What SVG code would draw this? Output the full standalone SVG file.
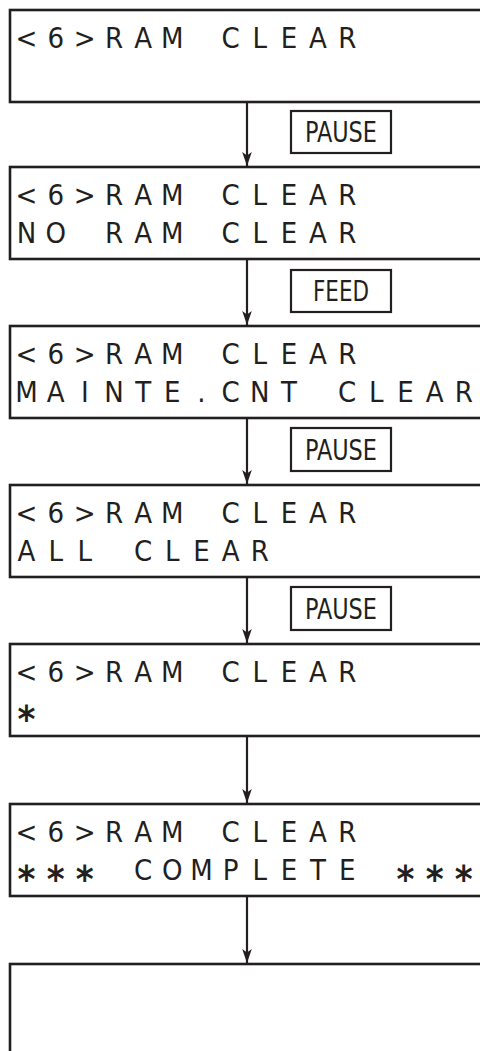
<svg xmlns="http://www.w3.org/2000/svg" width="480" height="1051" viewBox="0 0 480 1051">
<style>
.box{fill:#fff;stroke:#231f20;stroke-width:2.6}
.key{fill:#fff;stroke:#231f20;stroke-width:2.2}
.lcd{font-family:"Liberation Sans Narrow","DejaVu Sans Condensed","Liberation Sans",sans-serif;font-size:29px;fill:#231f20;text-anchor:middle}
.ast{font-family:"DejaVu Sans Condensed","DejaVu Sans",sans-serif;font-size:38px;font-weight:bold;fill:#231f20;text-anchor:middle}
.lbl{font-family:"Liberation Sans Narrow","DejaVu Sans Condensed","Liberation Sans",sans-serif;font-size:28px;fill:#231f20;text-anchor:middle}
.conn{stroke:#231f20;stroke-width:2.2;fill:none}
</style>
<defs>
<marker id="ah" markerUnits="userSpaceOnUse" markerWidth="16" markerHeight="12" viewBox="-15 -6 16 12" refX="0" refY="0" orient="auto">
<path d="M0,0 L-14,-4.8 L-10.5,0 L-14,4.8 Z" fill="#231f20"/>
</marker>
</defs>
<g id="connectors">
<line class="conn" x1="247" y1="102" x2="247" y2="166" marker-end="url(#ah)"/>
<line class="conn" x1="247" y1="259" x2="247" y2="325" marker-end="url(#ah)"/>
<line class="conn" x1="247" y1="418" x2="247" y2="484" marker-end="url(#ah)"/>
<line class="conn" x1="247" y1="577" x2="247" y2="643" marker-end="url(#ah)"/>
<line class="conn" x1="247" y1="736" x2="247" y2="803" marker-end="url(#ah)"/>
<line class="conn" x1="247" y1="896" x2="247" y2="963" marker-end="url(#ah)"/>
</g>
<g id="key-pause-1">
<rect class="key" x="291" y="111" width="100" height="42"/>
<text class="lbl" x="341" y="142" textLength="72" lengthAdjust="spacingAndGlyphs">PAUSE</text>
</g>
<g id="key-feed">
<rect class="key" x="291" y="270" width="100" height="42"/>
<text class="lbl" x="341" y="301" textLength="56" lengthAdjust="spacingAndGlyphs">FEED</text>
</g>
<g id="key-pause-2">
<rect class="key" x="291" y="428" width="100" height="43"/>
<text class="lbl" x="341" y="460" textLength="72" lengthAdjust="spacingAndGlyphs">PAUSE</text>
</g>
<g id="key-pause-3">
<rect class="key" x="291" y="587" width="100" height="43"/>
<text class="lbl" x="341" y="619" textLength="72" lengthAdjust="spacingAndGlyphs">PAUSE</text>
</g>
<g id="screen-1">
<rect class="box" x="10" y="10" width="480" height="92"/>
<text class="lcd" x="26.5 55.7 84.8 114 143.1 172.3 201.4 230.6 259.7 288.9 318 347.2" y="48">&lt;6&gt;RAM CLEAR</text>
</g>
<g id="screen-2">
<rect class="box" x="10" y="167" width="480" height="92"/>
<text class="lcd" x="26.5 55.7 84.8 114 143.1 172.3 201.4 230.6 259.7 288.9 318 347.2" y="205">&lt;6&gt;RAM CLEAR</text>
<text class="lcd" x="26.5 55.7 84.8 114 143.1 172.3 201.4 230.6 259.7 288.9 318 347.2" y="243">NO RAM CLEAR</text>
</g>
<g id="screen-3">
<rect class="box" x="10" y="326" width="480" height="92"/>
<text class="lcd" x="26.5 55.7 84.8 114 143.1 172.3 201.4 230.6 259.7 288.9 318 347.2" y="364">&lt;6&gt;RAM CLEAR</text>
<text class="lcd" x="26.5 55.7 84.8 114 143.1 172.3 201.4 230.6 259.7 288.9 318 347.2 376.3 405.5 434.6 463.8" y="402">MAINTE.CNT CLEAR</text>
</g>
<g id="screen-4">
<rect class="box" x="10" y="485" width="480" height="92"/>
<text class="lcd" x="26.5 55.7 84.8 114 143.1 172.3 201.4 230.6 259.7 288.9 318 347.2" y="523">&lt;6&gt;RAM CLEAR</text>
<text class="lcd" x="26.5 55.7 84.8 114 143.1 172.3 201.4 230.6 259.7" y="561">ALL CLEAR</text>
</g>
<g id="screen-5">
<rect class="box" x="10" y="644" width="480" height="92"/>
<text class="lcd" x="26.5 55.7 84.8 114 143.1 172.3 201.4 230.6 259.7 288.9 318 347.2" y="682">&lt;6&gt;RAM CLEAR</text>
<text class="ast" x="26.5" y="732">*</text>
</g>
<g id="screen-6">
<rect class="box" x="10" y="804" width="480" height="92"/>
<text class="lcd" x="26.5 55.7 84.8 114 143.1 172.3 201.4 230.6 259.7 288.9 318 347.2" y="842">&lt;6&gt;RAM CLEAR</text>
<text class="ast" x="26.5 55.7 84.8" y="892">***</text>
<text class="lcd" x="143.1 172.3 201.4 230.6 259.7 288.9 318 347.2" y="880">COMPLETE</text>
<text class="ast" x="405.5 434.6 463.8" y="892">***</text>
</g>
<g id="screen-7">
<rect class="box" x="10" y="964" width="480" height="100"/>
</g>
</svg>
